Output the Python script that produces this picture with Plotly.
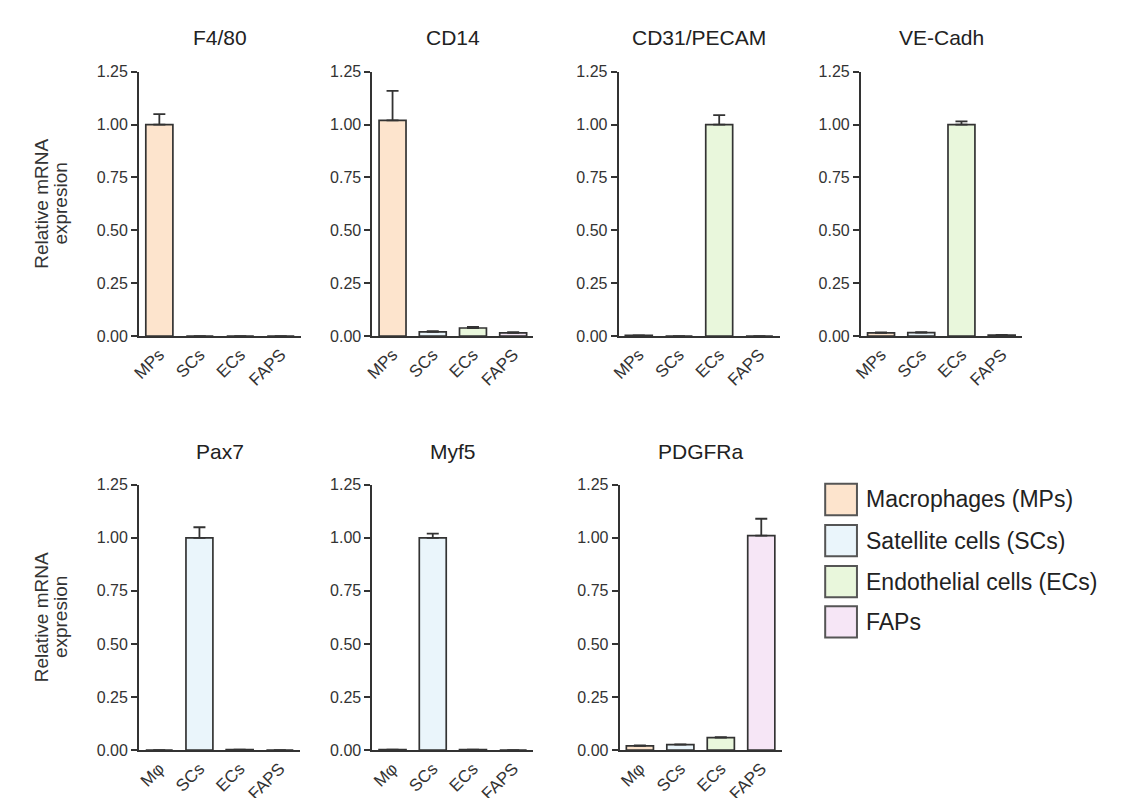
import plotly.graph_objects as go

W, H = 1122, 798

# ---- data ----
cats_top = ["MPs", "SCs", "ECs", "FAPS"]
cats_bot = ["Mφ", "SCs", "ECs", "FAPS"]

titles = ["F4/80", "CD14", "CD31/PECAM", "VE-Cadh", "Pax7", "Myf5", "PDGFRa"]

f480_val = [1.00, 0.0, 0.0, 0.0]
f480_err = [0.05, None, None, None]
cd14_val = [1.02, 0.020, 0.038, 0.015]
cd14_err = [0.14, 0.003, 0.005, 0.003]
cd31_val = [0.003, 0.0, 1.00, 0.0]
cd31_err = [None, None, 0.045, None]
vecad_val = [0.015, 0.016, 1.00, 0.005]
vecad_err = [0.002, 0.002, 0.015, None]
pax7_val = [0.0, 1.00, 0.002, 0.0]
pax7_err = [None, 0.05, None, None]
myf5_val = [0.002, 1.00, 0.002, 0.0]
myf5_err = [None, 0.02, None, None]
pdgfra_val = [0.020, 0.025, 0.058, 1.01]
pdgfra_err = [0.002, 0.002, 0.003, 0.08]

legend_labels = ["Macrophages (MPs)", "Satellite cells (SCs)",
                 "Endothelial cells (ECs)", "FAPs"]
colors = ["#FDE4CD", "#EAF5FB", "#E9F7DC", "#F6E6F6"]

y_ticks = [0, 0.25, 0.5, 0.75, 1.0, 1.25]
y_ticktext = ["0.00", "0.25", "0.50", "0.75", "1.00", "1.25"]
ylabel = ["Relative mRNA", "expresion"]

panels = [
    (f480_val, f480_err, cats_top),
    (cd14_val, cd14_err, cats_top),
    (cd31_val, cd31_err, cats_top),
    (vecad_val, vecad_err, cats_top),
    (pax7_val, pax7_err, cats_bot),
    (myf5_val, myf5_err, cats_bot),
    (pdgfra_val, pdgfra_err, cats_bot),
]

# ---- layout geometry (pixels) ----
xdom_px = [(124, 287), (359, 521), (607, 769), (851, 1013),
           (124, 286), (359, 521), (608, 771)]
ydom_px = [(57, 327)] * 4 + [(479, 750)] * 3
title_y_px = [22] * 4 + [445] * 3

def px_x(v):
    return v / W

def px_y(v):
    return 1 - v / H

FONT = "Arial, Liberation Sans, sans-serif"
INK = "#333333"

fig = go.Figure()
layout = dict(
    width=W, height=H,
    margin=dict(l=0, r=0, t=0, b=0),
    paper_bgcolor="white", plot_bgcolor="white",
    showlegend=False,
    font=dict(family=FONT, color=INK),
)
annotations = []
shapes = []

for i, (vals, errs, cats) in enumerate(panels):
    n = i + 1
    xa = "x" if n == 1 else f"x{n}"
    ya = "y" if n == 1 else f"y{n}"
    fig.add_trace(go.Bar(
        x=cats, y=vals, xaxis=xa, yaxis=ya,
        width=0.67,
        marker=dict(color=colors, line=dict(color=INK, width=1.7)),
        error_y=dict(type="data", array=errs, symmetric=False,
                     arrayminus=[0] * len(vals),
                     color=INK, thickness=1.8, width=6),
    ))
    x0, x1 = xdom_px[i]
    y0, y1 = ydom_px[i]
    xkey = "xaxis" if n == 1 else f"xaxis{n}"
    ykey = "yaxis" if n == 1 else f"yaxis{n}"
    layout[xkey] = dict(
        domain=[px_x(x0), px_x(x1)], anchor=ya,
        range=[-0.5, 3.5], showgrid=False, zeroline=False,
        showline=True, linecolor=INK, linewidth=2,
        ticks="", tickangle=-45,
        tickfont=dict(size=17, color=INK, family=FONT),
        fixedrange=True,
    )
    layout[ykey] = dict(
        domain=[px_y(y1), px_y(y0)], anchor=xa,
        range=[0, 1.25], showgrid=False, zeroline=False,
        showline=True, linecolor=INK, linewidth=2,
        ticks="outside", ticklen=6, tickwidth=2, tickcolor=INK,
        tickvals=y_ticks, ticktext=y_ticktext,
        tickfont=dict(size=16, color=INK, family=FONT),
        fixedrange=True,
    )
    annotations.append(dict(
        text=titles[i], x=px_x((x0 + x1) / 2), y=px_y(title_y_px[i]),
        xref="paper", yref="paper", showarrow=False,
        xanchor="center", yanchor="middle",
        font=dict(size=21, color="#222222", family=FONT),
    ))

# y-axis titles (two lines each row)
for (y0, y1) in [(57, 327), (479, 750)]:
    yc = (y0 + y1) / 2
    for line, xc in zip(ylabel, [26, 45]):
        annotations.append(dict(
            text=line, x=px_x(xc), y=px_y(yc), xref="paper", yref="paper",
            showarrow=False, textangle=-90, xanchor="center", yanchor="middle",
            font=dict(size=19, color="#333333", family=FONT),
        ))

# legend
box_tops = [478, 520, 562, 603]
for lab, col, top in zip(legend_labels, colors, box_tops):
    shapes.append(dict(
        type="rect", xref="paper", yref="paper",
        x0=px_x(815), x1=px_x(847), y0=px_y(top + 32), y1=px_y(top),
        fillcolor=col, line=dict(color="#555555", width=2),
    ))
    annotations.append(dict(
        text=lab, x=px_x(854), y=px_y(top + 16), xref="paper", yref="paper",
        showarrow=False, xanchor="left", yanchor="middle",
        font=dict(size=23, color="#222222", family=FONT),
    ))

layout["annotations"] = annotations
layout["shapes"] = shapes
fig.update_layout(**layout)

fig.write_html("out.html")
